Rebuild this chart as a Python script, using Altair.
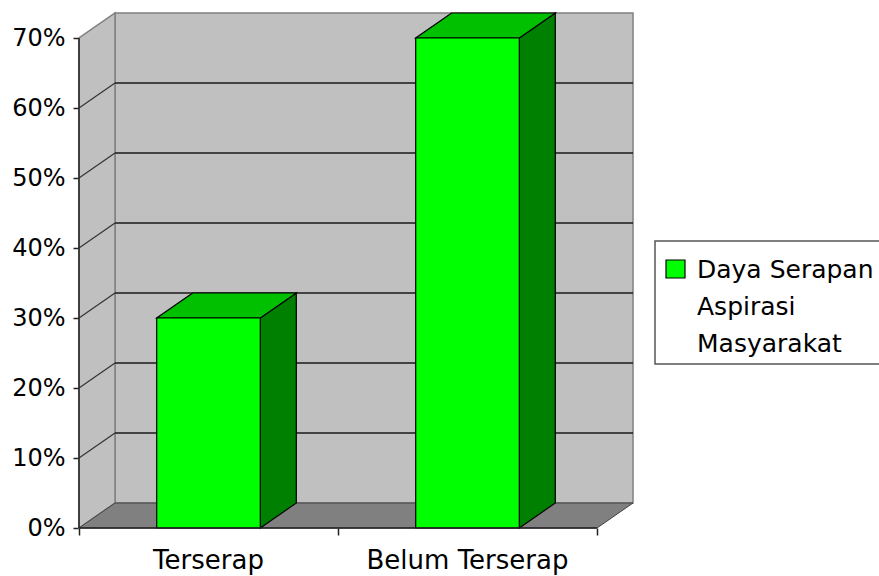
import altair as alt
import pandas as pd

# Chart data
categories = ["Terserap", "Belum Terserap"]
values = [30, 70]
series_lines = ["Daya Serapan", "Aspirasi", "Masyarakat"]
tick_values = [0, 10, 20, 30, 40, 50, 60, 70]

FONT = "DejaVu Sans"
Y_MAX = 70
N = len(categories)
DX = 36 / 259          # depth of the 3-D box, in category units
DY = 25 / 7            # depth of the 3-D box, in percentage points
BAR_L, BAR_R = 0.3, 0.7

W, H = 554, 515
x_scale = alt.Scale(domain=[0, N + DX], nice=False, zero=False)
y_scale = alt.Scale(domain=[0, Y_MAX + DY], nice=False, zero=False)

# One axis definition per channel, shared by every layer so they merge cleanly
x_axis_def = alt.Axis(
    values=list(range(N + 1)), labels=False, domain=False, grid=False, title=None,
    tickSize=7, tickColor="#222222", tickWidth=1.5)
y_axis_def = alt.Axis(
    values=tick_values, labelExpr="datum.value + '%'", domain=False, grid=False, title=None,
    tickSize=6, tickColor="#222222", tickWidth=1.5, labelPadding=8,
    labelFont=FONT, labelFontSize=24, labelColor="black")


def X(field):
    return alt.X(field, type="quantitative", scale=x_scale, axis=x_axis_def)


def Y(field):
    return alt.Y(field, type="quantitative", scale=y_scale, axis=y_axis_def)


# Walls and floor of the 3-D box
back_wall = alt.Chart(pd.DataFrame({"x": [DX], "x2": [N + DX], "y": [DY], "y2": [Y_MAX + DY]})).mark_rect(
    fill="#c0c0c0", stroke="#808080", strokeWidth=1.5
).encode(x=X("x"), x2="x2", y=Y("y"), y2="y2")

left_wall = alt.Chart(pd.DataFrame({"x": [0, DX], "lo": [0, DY], "hi": [Y_MAX, Y_MAX + DY]})).mark_area(
    fill="#c0c0c0", stroke="#808080", strokeWidth=1.5, opacity=1
).encode(x=X("x"), y=Y("lo"), y2="hi")

floor = alt.Chart(pd.DataFrame({"y": [0, DY], "xl": [0, DX], "xr": [N, N + DX]})).mark_area(
    orient="horizontal", fill="#808080", stroke="#404040", strokeWidth=1, opacity=1
).encode(y=Y("y"), x=X("xl"), x2="xr")

grid_vals = tick_values[1:-1]
back_grid = alt.Chart(pd.DataFrame({
    "x": [DX] * len(grid_vals), "x2": [N + DX] * len(grid_vals), "v": [v + DY for v in grid_vals],
})).mark_rule(color="#1a1a1a", strokeWidth=1.5).encode(x=X("x"), x2="x2", y=Y("v"))

side_grid = alt.Chart(pd.DataFrame({
    "x": [0] * len(grid_vals), "x2": [DX] * len(grid_vals),
    "v": grid_vals, "v2": [v + DY for v in grid_vals],
})).mark_rule(color="#333333", strokeWidth=1.2).encode(x=X("x"), x2="x2", y=Y("v"), y2="v2")

# Axis lines along the front edge
y_axis = alt.Chart(pd.DataFrame({"x": [0], "y": [0], "y2": [Y_MAX]})).mark_rule(
    color="#222222", strokeWidth=1.5
).encode(x=X("x"), y=Y("y"), y2="y2")

x_axis = alt.Chart(pd.DataFrame({"x": [0], "x2": [N], "y": [0]})).mark_rule(
    color="#222222", strokeWidth=1.5
).encode(x=X("x"), x2="x2", y=Y("y"))

# Bars: front face, right side and top
fronts = pd.DataFrame({
    "cat": categories,
    "x": [i + BAR_L for i in range(N)],
    "x2": [i + BAR_R for i in range(N)],
    "zero": [0] * N,
    "val": values,
})
sides = pd.DataFrame([
    {"cat": c, "x": i + BAR_R + dx, "lo": dy, "hi": v + dy}
    for i, (c, v) in enumerate(zip(categories, values))
    for dx, dy in [(0, 0), (DX, DY)]
])
tops = pd.DataFrame([
    {"cat": c, "y": v + dy, "xl": i + BAR_L + dx, "xr": i + BAR_R + dx}
    for i, (c, v) in enumerate(zip(categories, values))
    for dx, dy in [(0, 0), (DX, DY)]
])

bar_side = alt.Chart(sides).mark_area(fill="#008000", stroke="black", strokeWidth=1.2, opacity=1).encode(
    x=X("x"), y=Y("lo"), y2="hi", detail="cat:N")
bar_top = alt.Chart(tops).mark_area(
    orient="horizontal", fill="#00c000", stroke="black", strokeWidth=1.2, opacity=1
).encode(y=Y("y"), x=X("xl"), x2="xr", detail="cat:N")
bar_front = alt.Chart(fronts).mark_rect(fill="#00ff00", stroke="black", strokeWidth=1.2).encode(
    x=X("x"), x2="x2", y=Y("zero"), y2="val")

# Category labels under each bar
cat_labels = alt.Chart(pd.DataFrame({"cat": categories, "x": [i + 0.5 for i in range(N)]})).mark_text(
    font=FONT, fontSize=26, color="black", baseline="middle", align="center"
).encode(x=X("x"), y=alt.value(H + 33), text="cat:N")

# Legend box
legend_df = pd.DataFrame({"name": ["\n".join(series_lines)]})
legend_box = alt.Chart(legend_df).mark_rect(fill="white", stroke="#555555", strokeWidth=1.5).encode(
    x=alt.value(576), x2=alt.value(815), y=alt.value(228), y2=alt.value(351))
legend_sym = alt.Chart(legend_df).mark_rect(fill="#00ff00", stroke="black", strokeWidth=1.2).encode(
    x=alt.value(587), x2=alt.value(606), y=alt.value(247), y2=alt.value(265))
legend_txt = alt.Chart(legend_df).mark_text(
    font=FONT, fontSize=25, color="black", align="left",
    baseline="alphabetic", lineHeight=37, lineBreak="\n"
).encode(x=alt.value(618), y=alt.value(265), text="name:N")

chart = alt.layer(
    back_wall, left_wall, floor, back_grid, side_grid,
    bar_side, bar_top, bar_front,
    y_axis, x_axis, cat_labels,
    legend_box, legend_sym, legend_txt,
).properties(
    width=W, height=H,
    padding={"left": 79, "top": 13, "right": 246, "bottom": 48},
    autosize=alt.AutoSizeParams(type="none"),
).configure_view(stroke=None)

chart.save("out.html", embed_options={"renderer": "svg", "actions": False})
